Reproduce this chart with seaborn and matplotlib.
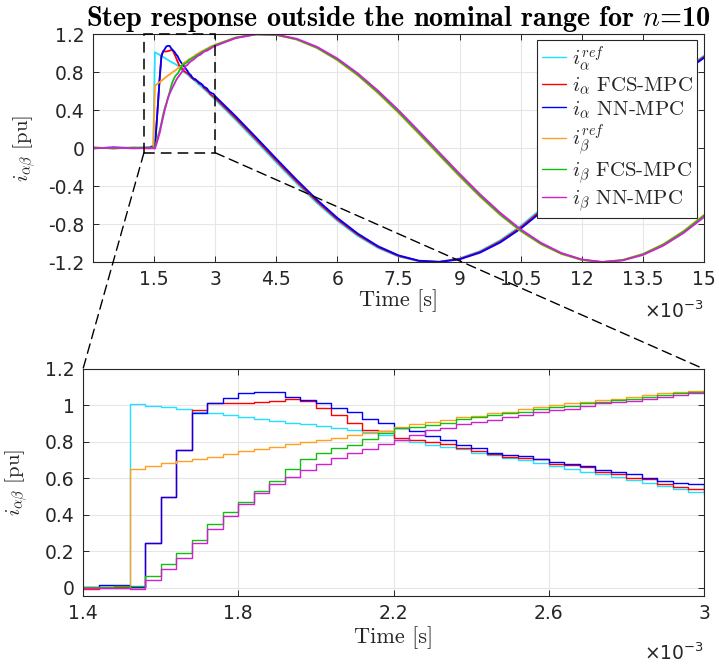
import numpy as np
import pandas as pd
import matplotlib
matplotlib.use("Agg")
import matplotlib.pyplot as plt
import seaborn as sns
from matplotlib.patches import Rectangle, ConnectionPatch
from matplotlib.lines import Line2D
from matplotlib.ticker import FuncFormatter, FixedLocator
from matplotlib.font_manager import FontProperties

sns.set_theme(style="ticks")
plt.rcParams['font.family'] = ['DejaVu Sans']
plt.rcParams['mathtext.fontset'] = 'cm'

# ---------------- data (time in ms, values in pu) ----------------
t_pre_ms = [0.0, 0.5, 1.0]
t_fine_ms = [1.40, 1.44, 1.48, 1.52, 1.56, 1.60, 1.64, 1.68, 1.72, 1.76,
             1.80, 1.84, 1.88, 1.92, 1.96, 2.00, 2.04, 2.08, 2.12, 2.16,
             2.20, 2.24, 2.28, 2.32, 2.36, 2.40, 2.44, 2.48, 2.52, 2.56,
             2.60, 2.64, 2.68, 2.72, 2.76, 2.80, 2.84, 2.88, 2.92, 2.96]
t_post_ms = [3.0, 3.5, 4.0, 4.5, 5.0, 5.5, 6.0, 6.5, 7.0, 7.5, 8.0, 8.5, 9.0,
             9.5, 10.0, 10.5, 11.0, 11.5, 12.0, 12.5, 13.0, 13.5, 14.0, 14.5, 15.0]

ia_ref = ([0.0, 0.002, -0.002] +
          [0.0, 0.0, 0.0, 1.007, 0.998, 0.989, 0.98, 0.965, 0.958, 0.95, 0.937,
           0.928, 0.915, 0.906, 0.897, 0.888, 0.877, 0.866, 0.855, 0.837,
           0.813, 0.797, 0.785, 0.774, 0.76, 0.741, 0.729, 0.712, 0.70, 0.683, 0.668, 0.654,
           0.637, 0.622, 0.607, 0.591, 0.573, 0.558, 0.54, 0.525] +
          [0.509, 0.296, 0.073, -0.153, -0.373, -0.580, -0.767, -0.926, -1.053, -1.142,
           -1.191, -1.197, -1.162, -1.085, -0.970, -0.820, -0.641, -0.440, -0.223, 0.002,
           0.227, 0.444, 0.645, 0.823, 0.972])
ia_fcs = ([0.004, -0.004, 0.003] +
          [-0.005, 0.005, 0.005, 0.003, 0.246, 0.497, 0.754, 0.975, 1.016, 1.016, 1.016,
           1.02, 1.024, 1.033, 1.024, 0.987, 0.948, 0.906, 0.866, 0.862,
           0.822, 0.809, 0.797, 0.787, 0.769, 0.751, 0.733, 0.72, 0.712, 0.705, 0.679, 0.672,
           0.663, 0.635, 0.622, 0.604, 0.594, 0.567, 0.552, 0.543] +
          [0.527, 0.315, 0.093, -0.133, -0.354, -0.562, -0.752, -0.913, -1.043, -1.136,
           -1.189, -1.198, -1.167, -1.094, -0.982, -0.835, -0.658, -0.459, -0.243, -0.018,
           0.207, 0.425, 0.628, 0.808, 0.960])
ia_nn = ([-0.004, 0.006, 0.0] +
         [0.005, 0.016, 0.016, 0.003, 0.246, 0.497, 0.754, 0.961, 1.016, 1.04, 1.069,
          1.075, 1.075, 1.049, 1.03, 1.012, 0.986, 0.966, 0.928, 0.902,
          0.878, 0.858, 0.833, 0.811, 0.782, 0.769, 0.741, 0.729, 0.723, 0.705, 0.692, 0.681,
          0.668, 0.646, 0.637, 0.626, 0.60, 0.585, 0.576, 0.57] +
         [0.545, 0.335, 0.113, -0.113, -0.335, -0.545, -0.736, -0.901, -1.034, -1.130,
          -1.186, -1.200, -1.172, -1.102, -0.994, -0.849, -0.675, -0.477, -0.262, -0.038,
          0.188, 0.407, 0.611, 0.794, 0.949])
ib_ref = ([0.0, -0.002, 0.002] +
          [0.0, 0.0, 0.0, 0.653, 0.668, 0.682, 0.695, 0.708, 0.72, 0.736, 0.75,
           0.763, 0.774, 0.787, 0.80, 0.811, 0.822, 0.837, 0.848, 0.86,
           0.882, 0.897, 0.91, 0.919, 0.935, 0.943, 0.956, 0.965, 0.98, 0.989, 1.001, 1.012,
           1.02, 1.029, 1.038, 1.047, 1.056, 1.067, 1.073, 1.079] +
          [1.087, 1.163, 1.198, 1.190, 1.141, 1.051, 0.923, 0.763, 0.576, 0.369,
           0.148, -0.077, -0.300, -0.513, -0.707, -0.876, -1.014, -1.116, -1.179, -1.200,
           -1.178, -1.115, -1.012, -0.873, -0.704])
ib_fcs = ([0.005, -0.003, 0.004] +
          [0.005, 0.005, 0.008, 0.01, 0.066, 0.128, 0.19, 0.264, 0.348, 0.416, 0.468,
           0.53, 0.585, 0.653, 0.704, 0.741, 0.768, 0.783, 0.814, 0.848,
           0.878, 0.882, 0.895, 0.906, 0.928, 0.934, 0.946, 0.957, 0.966, 0.98, 0.989, 0.998,
           1.011, 1.02, 1.029, 1.038, 1.047, 1.056, 1.066, 1.075] +
          [1.083, 1.161, 1.197, 1.191, 1.144, 1.056, 0.929, 0.771, 0.585, 0.379,
           0.158, -0.067, -0.290, -0.504, -0.699, -0.869, -1.009, -1.112, -1.177, -1.200,
           -1.180, -1.119, -1.017, -0.880, -0.712])
ib_nn = ([-0.003, 0.004, -0.004] +
         [0.0, -0.003, -0.003, -0.007, 0.044, 0.105, 0.163, 0.246, 0.323, 0.396, 0.462,
          0.521, 0.572, 0.609, 0.644, 0.677, 0.713, 0.741, 0.763, 0.787,
          0.81, 0.837, 0.864, 0.875, 0.897, 0.912, 0.923, 0.935, 0.95, 0.966, 0.976, 0.983,
          0.998, 1.012, 1.02, 1.024, 1.035, 1.045, 1.056, 1.067] +
         [1.074, 1.156, 1.196, 1.194, 1.150, 1.065, 0.942, 0.786, 0.602, 0.398,
          0.178, -0.047, -0.271, -0.486, -0.683, -0.856, -0.998, -1.105, -1.173, -1.200,
          -1.184, -1.126, -1.028, -0.894, -0.728])

series_names = ["ia_ref", "ia_fcs", "ia_nn", "ib_ref", "ib_fcs", "ib_nn"]
series_labels = [r"$i_\alpha^{ref}$", r"$i_\alpha$ FCS-MPC", r"$i_\alpha$ NN-MPC",
                 r"$i_\beta^{ref}$", r"$i_\beta$ FCS-MPC", r"$i_\beta$ NN-MPC"]
series_colors = ["#22e0ff", "#ff0000", "#0000ff", "#ffa020", "#10c010", "#d020d0"]

top_xticks_ms = [1.5, 3, 4.5, 6, 7.5, 9, 10.5, 12, 13.5, 15]
top_yticks = [-1.2, -0.8, -0.4, 0, 0.4, 0.8, 1.2]
bot_xticks_ms = [1.4, 1.8, 2.2, 2.6, 3.0]
bot_yticks = [0, 0.2, 0.4, 0.6, 0.8, 1.0, 1.2]

# ---------------- dataframe ----------------
t_all = np.array(t_pre_ms + t_fine_ms + t_post_ms) * 1e-3
vals = [ia_ref, ia_fcs, ia_nn, ib_ref, ib_fcs, ib_nn]
df = pd.concat([pd.DataFrame({"time": t_all, "value": v, "series": n})
                for n, v in zip(series_names, vals)], ignore_index=True)
palette = dict(zip(series_names, series_colors))

# ---------------- figure ----------------
W, H = 719, 669
fig = plt.figure(figsize=(W / 100, H / 100), dpi=100)
ax1 = fig.add_axes([93 / W, 1 - 262 / H, 611 / W, 228 / H])
ax2 = fig.add_axes([83 / W, 1 - 596 / H, 621 / W, 227 / H])

sns.lineplot(data=df, x="time", y="value", hue="series", hue_order=series_names,
             palette=palette, estimator=None, sort=False, lw=1.3, legend=False, ax=ax1)
sns.lineplot(data=df, x="time", y="value", hue="series", hue_order=series_names,
             palette=palette, estimator=None, sort=False, lw=1.0, legend=False,
             drawstyle="steps-post", ax=ax2)

tick_color = "#262626"
ms_fmt = FuncFormatter(lambda v, p: f"{v * 1e3:g}")
y_fmt = FuncFormatter(lambda v, p: f"{round(v, 2):g}")

for ax, xt, yt, xlim, ylim in [
        (ax1, top_xticks_ms, top_yticks, (0, 15e-3), (-1.2, 1.2)),
        (ax2, bot_xticks_ms, bot_yticks, (1.4e-3, 3e-3), (-0.045, 1.2))]:
    ax.set_xlim(*xlim)
    ax.set_ylim(*ylim)
    ax.xaxis.set_major_locator(FixedLocator([x * 1e-3 for x in xt]))
    ax.yaxis.set_major_locator(FixedLocator(yt))
    ax.xaxis.set_major_formatter(ms_fmt)
    ax.yaxis.set_major_formatter(y_fmt)
    ax.grid(True, color="#e6e6e6", lw=0.8)
    ax.set_axisbelow(True)
    ax.tick_params(direction="in", top=True, right=True, length=4, width=0.7,
                   colors=tick_color, labelsize=13.5, pad=6)
    for sp in ax.spines.values():
        sp.set_color(tick_color)
        sp.set_linewidth(0.8)
    ax.set_xlabel("Time [s]", fontfamily="cmr10", fontsize=16, color="#262626")
    ax.set_ylabel(r"$i_{\alpha\beta}$ [pu]", fontfamily="cmr10", fontsize=15, color="#262626")
    ax.text(1.0, 0, r"$\times$10$^{-3}$", transform=ax.transAxes, ha="right",
            va="center", fontsize=13.5, color="#262626", math_fontfamily="dejavusans")

ax1.texts[-1].set_position((1.0, -0.215))
ax2.texts[-1].set_position((1.0, -0.25))
ax1.xaxis.set_label_coords(0.5, -0.12)
ax2.xaxis.set_label_coords(0.5, -0.135)
ax1.yaxis.set_label_coords(-0.09, 0.5)
ax2.yaxis.set_label_coords(-0.085, 0.5)

ax1.set_title(r"Step response outside the nominal range for $n$=10",
              fontfamily="cmb10", fontsize=20.3, pad=6, color="black")

# legend
handles = [Line2D([], [], color=c, lw=1.0) for c in series_colors]
leg = ax1.legend(handles, series_labels, loc="upper right",
                 bbox_to_anchor=(0.9885, 0.974),
                 prop=FontProperties(family="cmr10", size=15),
                 handlelength=1.15, handletextpad=0.3, borderpad=0.2,
                 labelspacing=0.12, fancybox=False, framealpha=1,
                 edgecolor="#262626", borderaxespad=0)
leg.get_frame().set_linewidth(0.8)

# zoom rectangle and connectors
dash = (0, (7, 4))
rect = Rectangle((1.25e-3, -0.05), 1.75e-3, 1.25, fill=False, ec="black",
                 ls=dash, lw=1.1, zorder=6, clip_on=False)
ax1.add_patch(rect)
for xa, xb in [(1.25e-3, 0), (3.0e-3, 1)]:
    con = ConnectionPatch(xyA=(xa, -0.05), coordsA=ax1.transData,
                          xyB=(xb, 1), coordsB=ax2.transAxes,
                          color="black", ls=dash, lw=1.0, zorder=6)
    fig.add_artist(con)

fig.savefig("out.png", dpi=100)
